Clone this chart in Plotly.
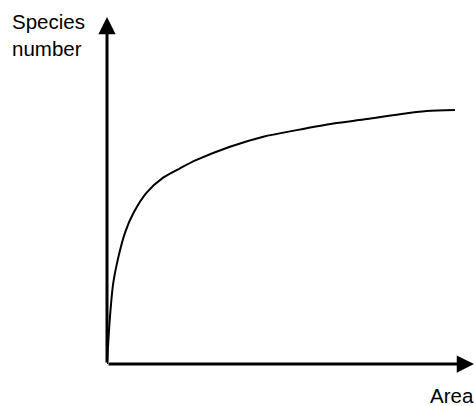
import plotly.graph_objects as go

# Species-area curve (area units 0-100, species units 0-100)
area = [0, 0.8, 1.7, 3.1, 4.9, 7.2, 10.8, 15.3, 19.9, 24.4, 33.5, 42.6, 51.7, 61.7, 70.8, 79.8, 87.1, 94.8]
species = [0, 13.5, 23.3, 30.8, 37.8, 43.5, 49.4, 53.7, 56.4, 58.8, 62.6, 65.5, 67.4, 69.3, 70.6, 72.0, 72.9, 73.2]

x_label = "Area"
y_label = "Species<br>number"

fig = go.Figure()
fig.add_trace(go.Scatter(
    x=area, y=species, mode="lines",
    line=dict(color="black", width=2, shape="spline", smoothing=0.8),
    hoverinfo="skip", showlegend=False,
))

font = dict(family="Liberation Sans, Arial, sans-serif", size=20.5, color="black")

# Axes drawn as arrows
fig.add_annotation(x=100, y=0, ax=0, ay=0, xref="x", yref="y", axref="x", ayref="y",
                   text="", showarrow=True, arrowhead=2, arrowsize=1.15, arrowwidth=3,
                   arrowcolor="black", standoff=0, startstandoff=0)
fig.add_annotation(x=0, y=100, ax=0, ay=0, xref="x", yref="y", axref="x", ayref="y",
                   text="", showarrow=True, arrowhead=2, arrowsize=1.15, arrowwidth=3,
                   arrowcolor="black", standoff=0, startstandoff=0)

fig.add_annotation(x=-0.2645, y=1.025, xref="paper", yref="paper", text=y_label,
                   showarrow=False, xanchor="left", yanchor="top", align="left", font=font)
fig.add_annotation(x=0.877, y=-0.054, xref="paper", yref="paper", text=x_label,
                   showarrow=False, xanchor="left", yanchor="top", align="left", font=font,
                   borderpad=0)

fig.update_xaxes(range=[0, 100], visible=False)
fig.update_yaxes(range=[0, 100], visible=False)
fig.update_layout(
    width=475, height=406, autosize=False,
    margin=dict(l=107, r=1, t=17, b=42),
    plot_bgcolor="white", paper_bgcolor="white",
    font=font,
)

# remove the default page margin so the figure fills the window exactly
fig.write_html(
    "out.html",
    config={"displayModeBar": False, "staticPlot": True},
    post_script="document.body.style.margin='0';document.body.style.overflow='hidden';",
)
